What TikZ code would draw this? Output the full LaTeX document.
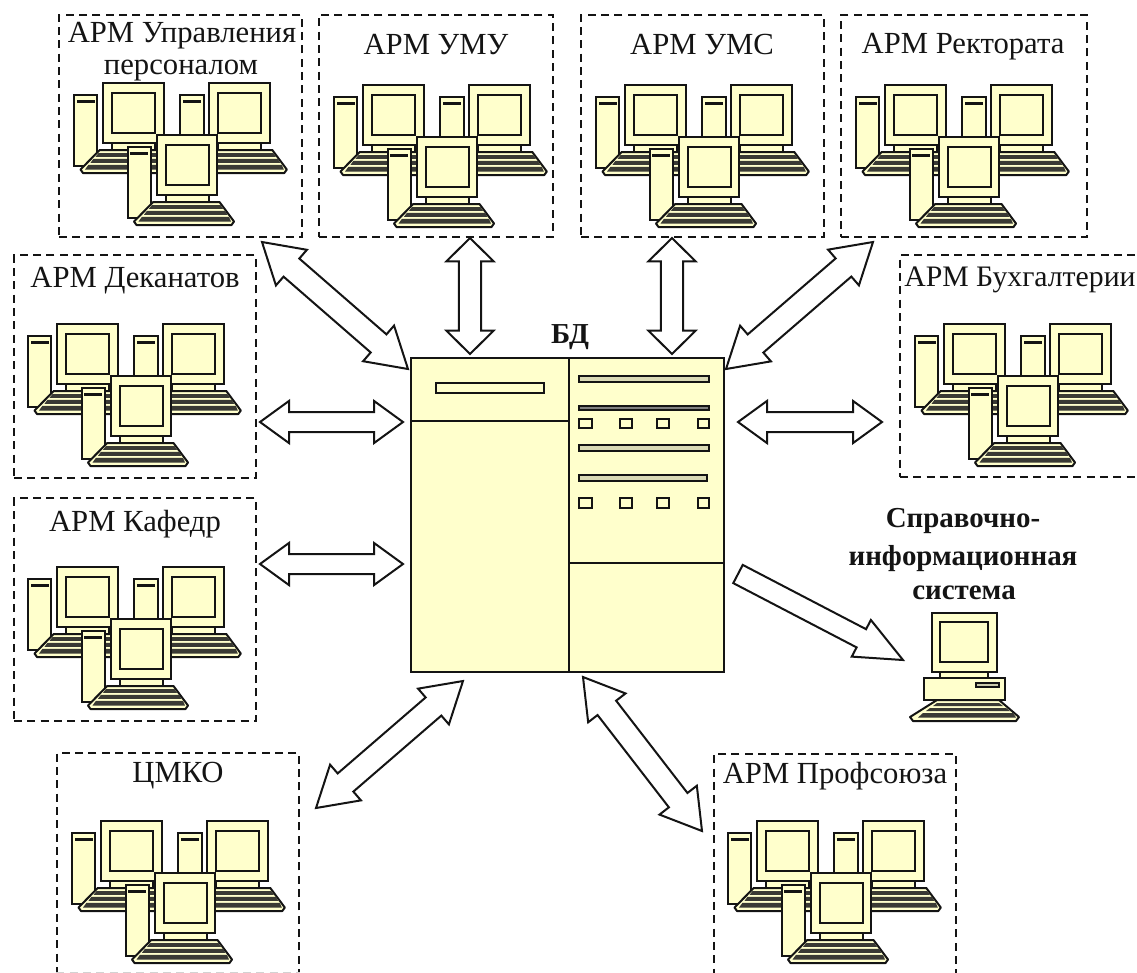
\documentclass[tikz,border=0pt]{standalone}
\usepackage{fontspec}
\setmainfont{Liberation Serif}
\usetikzlibrary{calc}
\definecolor{pale}{HTML}{FFFFCC}
\definecolor{ink}{HTML}{141414}
\definecolor{bandc}{HTML}{3A3A34}
\tikzset{
  part/.style={draw=ink,line width=1.5pt,fill=pale,line join=miter},
  keyboard/.style={draw=ink,line width=1.5pt,fill=pale,line join=round},
  thin part/.style={draw=ink,line width=1.4pt,fill=pale},
  gate/.style={draw=ink,line width=1.5pt,fill=white,line join=miter},
  unitbox/.style={draw=ink,line width=1.1pt,dash pattern=on 6pt off 4pt,inner sep=0pt,rectangle},
  fadeline/.style={draw=gray!35,line width=1pt,dash pattern=on 6pt off 4pt},
  title/.style={font=\fontsize{23}{26}\selectfont,anchor=base,inner sep=0pt,text=ink},
  boldtitle/.style={font=\fontsize{21.7}{25}\selectfont\bfseries,anchor=base,inner sep=0pt,text=ink},
  pics/pcone/.style={code={
    \draw[part] (0,0) rectangle (23.3,71);
    \fill[ink] (2.5,5) rectangle (20.8,7.5);
    \draw[keyboard] (25.7,55) -- (92,55) -- (106.5,74.5) -- (104,78) -- (9,78) -- (6.5,74.5) -- cycle;
    \fill[bandc] (24.5,58) -- (93,58) -- (95.5,61.8) -- (21.5,61.8) -- cycle;
    \fill[bandc] (19.5,63.8) -- (97.5,63.8) -- (100,67.8) -- (16.5,67.8) -- cycle;
    \fill[bandc] (14.5,69.8) -- (101.5,69.8) -- (103.5,74.5) -- (11,74.5) -- cycle;
    \draw[part] (38,47.7) rectangle (81,55);
    \draw[part] (29,-11.7) rectangle (89.7,47.7);
    \draw[part] (38,-1.7) rectangle (81,37.7);
  }},
  pics/pcgroup/.style={code={
    \pic at (0,0) {pcone};
    \pic at (106.3,0) {pcone};
    \pic at (53.5,52) {pcone};
  }}
}
\newcommand{\twoway}[5]{%
  \draw[gate] (#1)
   -- ($(#1)!#3pt!(#2)!#4pt!90:(#2)$) -- ($(#1)!#3pt!(#2)!#5pt!90:(#2)$)
   -- ($(#2)!#3pt!(#1)!#5pt!-90:(#1)$) -- ($(#2)!#3pt!(#1)!#4pt!-90:(#1)$)
   -- (#2)
   -- ($(#2)!#3pt!(#1)!#4pt!90:(#1)$) -- ($(#2)!#3pt!(#1)!#5pt!90:(#1)$)
   -- ($(#1)!#3pt!(#2)!#5pt!-90:(#2)$) -- ($(#1)!#3pt!(#2)!#4pt!-90:(#2)$)
   -- cycle;}
\newcommand{\oneway}[5]{%
  \draw[gate] (#2)
   -- ($(#2)!#3pt!(#1)!#4pt!90:(#1)$) -- ($(#2)!#3pt!(#1)!#5pt!90:(#1)$)
   -- ($(#1)!#5pt!-90:(#2)$) -- ($(#1)!#5pt!90:(#2)$)
   -- ($(#2)!#3pt!(#1)!#5pt!-90:(#1)$) -- ($(#2)!#3pt!(#1)!#4pt!-90:(#1)$)
   -- cycle;}
\begin{document}
\begin{tikzpicture}[x=0.75pt,y=-0.75pt]
\useasboundingbox (0,0) rectangle (1137,972);
\clip (0,0) rectangle (1137,972);

% dashed unit frames
\node[unitbox,minimum width=182.25pt,minimum height=166.5pt] (fPers) at (180.5,126) {};
\node[unitbox,minimum width=175.5pt,minimum height=166.5pt] (fUmu) at (436,126) {};
\node[unitbox,minimum width=182.25pt,minimum height=166.5pt] (fUms) at (702.5,126) {};
\node[unitbox,minimum width=184.5pt,minimum height=166.5pt] (fRect) at (964,126) {};
\node[unitbox,minimum width=181.5pt,minimum height=167.25pt] (fDek) at (135,366.5) {};
\node[unitbox,minimum width=181.5pt,minimum height=167.25pt] (fKaf) at (135,609.5) {};
\node[unitbox,minimum width=220pt,minimum height=166.5pt] (fBuh) at (1046.5,366) {};
\node[unitbox,minimum width=181.5pt,minimum height=166.5pt] (fCmko) at (178,864) {};
\node[unitbox,minimum width=181.5pt,minimum height=166pt] (fProf) at (835,864.5) {};
\path[fadeline] ([yshift=2pt]fCmko.south west) -- ([yshift=2pt]fCmko.south east);
\path[fadeline] ([yshift=2pt]fProf.south west) -- ([yshift=2pt]fProf.south east);

% workstation groups
\pic at (74,95) {pcgroup};
\pic at (334,97) {pcgroup};
\pic at (596,97) {pcgroup};
\pic at (856,97) {pcgroup};
\pic at (28,336) {pcgroup};
\pic at (28,579) {pcgroup};
\pic at (915,336) {pcgroup};
\pic at (72,833) {pcgroup};
\pic at (728,833) {pcgroup};

% titles
\node[title] (tPers1) at (182,42) {АРМ Управления};
\node[title] (tPers2) at (181,74) {персоналом};
\node[title] (tUmu) at (436,54) {АРМ УМУ};
\node[title] (tUms) at (702,54) {АРМ УМС};
\node[title] (tRect) at (963,53.5) {АРМ Ректората};
\node[title] (tDek) at (135,287) {АРМ Деканатов};
\node[title] (tKaf) at (135,531) {АРМ Кафедр};
\node[title,font=\fontsize{22.3}{26}\selectfont] (tBuh) at (1020,286) {АРМ Бухгалтерии};
\node[title] (tCmko) at (178,782) {ЦМКО};
\node[title] (tProf) at (835,783) {АРМ Профсоюза};
\node[boldtitle] (tDb) at (570,343) {БД};
\node[boldtitle] (tInf1) at (963,527) {Справочно-};
\node[boldtitle] (tInf2) at (963,565) {информационная};
\node[boldtitle] (tInf3) at (964,599) {система};

% database cabinet
\node[part,rectangle,inner sep=0pt,minimum width=234.75pt,minimum height=235.5pt] (db) at (567.5,515) {};
\draw[part,fill=none] (569,358) -- (569,672);
\draw[part,fill=none] (411,421) -- (569,421);
\draw[part,fill=none] (569,563) -- (724,563);
\draw[thin part] (436,383) rectangle (544,393);
\draw[thin part,fill=pale!70!gray] (579,376) rectangle (709,382);
\draw[thin part,fill=gray] (579,406) rectangle (709,410);
\draw[thin part,fill=pale!70!gray] (579,445) rectangle (709,451);
\draw[thin part,fill=pale!70!gray] (579,475) rectangle (707,481);
\foreach \xa/\xb in {579/592,620/632,657/669,698/709}{
  \draw[thin part] (\xa,419) rectangle (\xb,428);
  \draw[thin part] (\xa,498) rectangle (\xb,508);
}

% single computer
\draw[keyboard] (937,700) -- (999,700) -- (1019,717) -- (1016,721) -- (913,721) -- (910,717) -- cycle;
\fill[bandc] (937,703) -- (999,703) -- (1003,706) -- (933,706) -- cycle;
\fill[bandc] (930,708) -- (1006,708) -- (1010,711) -- (926,711) -- cycle;
\fill[bandc] (923,713) -- (1013,713) -- (1016,717.5) -- (918,717.5) -- cycle;
\draw[part] (924,678) rectangle (1005,700);
\draw[thin part,fill=pale!60!gray] (976,683) rectangle (999,687);
\draw[part] (940,672) rectangle (988,678);
\draw[part] (932,613) rectangle (997,672);
\draw[part] (940,622) rectangle (988,662);

% block arrow ends
\coordinate (a1) at (262,242); \coordinate (b1) at (408,369);
\coordinate (a2) at (470,238); \coordinate (b2) at (470,354);
\coordinate (a3) at (672,238); \coordinate (b3) at (672,354);
\coordinate (a4) at (873,242); \coordinate (b4) at (726,369);
\coordinate (a5) at (260,422); \coordinate (b5) at (403,422);
\coordinate (a6) at (738,422); \coordinate (b6) at (882,422);
\coordinate (a7) at (260,564); \coordinate (b7) at (403,564);
\coordinate (a8) at (316,808); \coordinate (b8) at (463,681);
\coordinate (a9) at (583,677); \coordinate (b9) at (702,831);
\coordinate (a10) at (738,574); \coordinate (b10) at (903,660);

\twoway{a1}{b1}{29.25}{17.7}{9}
\twoway{a2}{b2}{17.5}{17.7}{8.3}
\twoway{a3}{b3}{17.5}{17.7}{8.3}
\twoway{a4}{b4}{29.25}{17.7}{9}
\twoway{a5}{b5}{21.75}{15.8}{7.5}
\twoway{a6}{b6}{21.75}{15.8}{7.5}
\twoway{a7}{b7}{21.75}{15.8}{7.5}
\twoway{a8}{b8}{29.25}{17.7}{9}
\twoway{a9}{b9}{29.25}{17.7}{8.8}
\oneway{a10}{b10}{35.25}{15.5}{7.7}
\end{tikzpicture}
\end{document}
